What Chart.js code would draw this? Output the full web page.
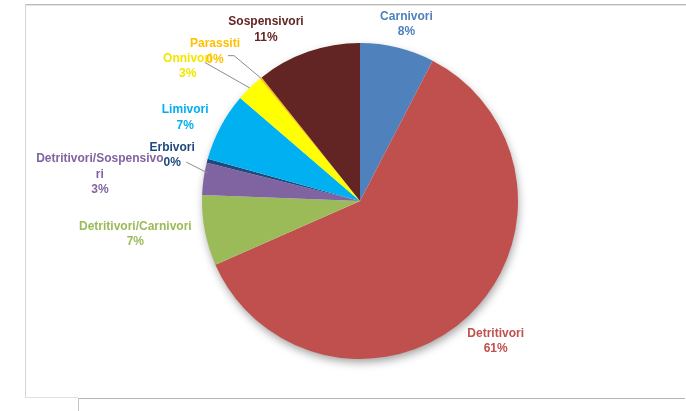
<!DOCTYPE html>
<html>
<head>
<meta charset="utf-8">
<script src="https://cdn.jsdelivr.net/npm/chart.js@4.4.0/dist/chart.umd.min.js"></script>
<style>
  html, body { margin: 0; padding: 0; background: #fff; }
  #wrap { position: relative; width: 686px; height: 411px; overflow: hidden; }
  #pie { position: absolute; left: 0; top: 0; }
  .ln { position: absolute; }
</style>
</head>
<body>
<div id="wrap">
  <div class="ln" style="left:25px;top:4px;width:661px;height:1px;background:#b9b9b9"></div>
  <div class="ln" style="left:25px;top:5px;width:661px;height:1px;background:#e6e6e6"></div>
  <div class="ln" style="left:25px;top:4px;width:1px;height:394px;background:#d6d6d6"></div>
  <div class="ln" style="left:25px;top:397px;width:53px;height:1px;background:#e0e0e0"></div>
  <div class="ln" style="left:78px;top:398px;width:607px;height:1px;background:#b4b4b4"></div>
  <div class="ln" style="left:78px;top:398px;width:1px;height:13px;background:#c4c4c4"></div>
  <canvas id="pie" width="686" height="411"></canvas>
</div>
<script>
// Gruppi trofici (percentuali)
const categorie = ['Carnivori', 'Detritivori', 'Detritivori/Carnivori', 'Detritivori/Sospensivori',
  'Erbivori', 'Limivori', 'Onnivori', 'Parassiti', 'Sospensivori'];
const valori = [7.6, 60.8, 7.2, 3.3, 0.4, 7.0, 2.8, 0.2, 10.7];
const colori = ['#4f81bd', '#c0504d', '#9bbb59', '#8064a2', '#1f497d', '#00b0f0', '#ffff00', '#ffc000', '#632523'];
const coloriEtichette = ['#4f81bd', '#c0504d', '#9bbb59', '#8064a2', '#1f497d', '#00b0f0', '#f2e600', '#ffc000', '#632523'];

// spostamento delle etichette rispetto al punto esterno della fetta, e linee guida
const posEtichette = [
  { dx: 2, dy: 6 },
  { dx: 7, dy: 3 },
  { dx: -40, dy: -2 },
  { dx: -74, dy: 0 },
  { dx: -6, dy: 2, guida: [14, 7], fine: [0, 12] },
  { dx: -9, dy: 5 },
  { dx: -41, dy: 0, guida: [17, -4] },
  { dx: -27, dy: -3, guida: [13, 4], gomito: 6 },
  { dx: -32, dy: 6 }
];

const FONT = 'bold 12px "Liberation Sans", sans-serif';
const LARGHEZZA_MAX = 128;

function aCapo(ctx, testo) {
  if (ctx.measureText(testo).width <= LARGHEZZA_MAX) return [testo];
  let i = testo.length;
  while (i > 1 && ctx.measureText(testo.slice(0, i)).width > LARGHEZZA_MAX) i--;
  return [testo.slice(0, i), testo.slice(i)];
}

const ombra = {
  id: 'ombra',
  beforeDatasetsDraw(chart) {
    const arc = chart.getDatasetMeta(0).data[0];
    const ctx = chart.ctx;
    ctx.save();
    ctx.shadowColor = 'rgba(0,0,0,0.4)';
    ctx.shadowBlur = 10;
    ctx.shadowOffsetX = 1;
    ctx.shadowOffsetY = 4;
    ctx.fillStyle = '#fff';
    ctx.beginPath();
    ctx.arc(arc.x, arc.y, arc.outerRadius - 1, 0, Math.PI * 2);
    ctx.fill();
    ctx.restore();
  }
};

const etichette = {
  id: 'etichette',
  afterDatasetsDraw(chart) {
    const ctx = chart.ctx;
    const meta = chart.getDatasetMeta(0);
    const totale = valori.reduce((a, b) => a + b, 0);
    ctx.save();
    ctx.font = FONT;
    ctx.textAlign = 'center';
    ctx.textBaseline = 'middle';
    meta.data.forEach((arc, i) => {
      const mid = (arc.startAngle + arc.endAngle) / 2;
      const r = arc.outerRadius + 30;
      const p = posEtichette[i];
      const cx = arc.x + Math.cos(mid) * r + p.dx;
      const cy = arc.y + Math.sin(mid) * r + p.dy;
      const righe = aCapo(ctx, categorie[i]);
      righe.push(Math.round(valori[i] / totale * 100) + '%');
      const h = 15.5;
      const y0 = cy - (righe.length - 1) * h / 2;

      if (p.guida) {
        let ex = arc.x + Math.cos(mid) * arc.outerRadius;
        let ey = arc.y + Math.sin(mid) * arc.outerRadius;
        if (p.fine) { ex += p.fine[0]; ey += p.fine[1]; }
        const sx = cx + p.guida[0], sy = cy + p.guida[1];
        ctx.strokeStyle = '#8c8c8c';
        ctx.lineWidth = 1;
        ctx.beginPath();
        ctx.moveTo(sx, sy);
        if (p.gomito) ctx.lineTo(sx + p.gomito, sy);
        ctx.lineTo(ex, ey);
        ctx.stroke();
      }

      ctx.fillStyle = coloriEtichette[i];
      righe.forEach((t, k) => ctx.fillText(t, cx, y0 + k * h));
    });
    ctx.restore();
  }
};

new Chart(document.getElementById('pie').getContext('2d'), {
  type: 'pie',
  data: {
    labels: categorie,
    datasets: [{
      data: valori,
      backgroundColor: colori,
      borderWidth: 0
    }]
  },
  options: {
    responsive: false,
    animation: false,
    layout: { padding: { left: 202, right: 168, top: 43, bottom: 52 } },
    plugins: {
      legend: { display: false },
      tooltip: { enabled: false }
    }
  },
  plugins: [ombra, etichette]
});
</script>
</body>
</html>
